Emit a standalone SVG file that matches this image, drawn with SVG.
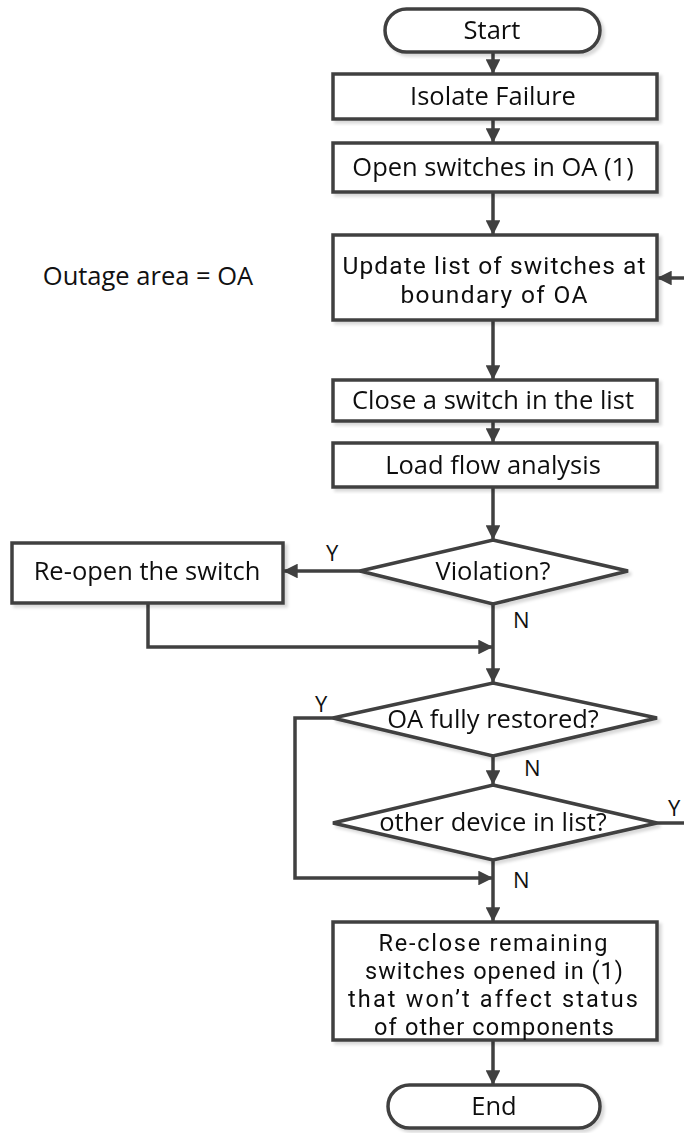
<svg xmlns="http://www.w3.org/2000/svg" width="684" height="1133" viewBox="0 0 684 1133">
<style>
.s{fill:#fff;stroke:#404040;stroke-width:3.5}
.t{font-family:"Open Sans","Liberation Sans",sans-serif;font-size:25.5px;fill:#111;text-anchor:middle}
.r{font-family:Roboto,"Liberation Sans",sans-serif;font-size:23.5px;fill:#111;text-anchor:middle}
.l{font-family:"Open Sans","Liberation Sans",sans-serif;font-size:22px;fill:#111}
.c{fill:none;stroke:#404040;stroke-width:3.5}
</style>
<defs>
<marker id="a" viewBox="0 0 10 10" refX="10" refY="5" markerWidth="4.2" markerHeight="4.2" orient="auto" markerUnits="strokeWidth">
<path d="M0,0L10,5L0,10z" fill="#404040"/>
</marker>
<filter id="sh" x="-5%" y="-5%" width="115%" height="120%">
<feDropShadow dx="3" dy="3" stdDeviation="1.5" flood-color="#000" flood-opacity="0.15"/>
</filter>
</defs>
<rect width="684" height="1133" fill="#fff"/>
<g id="connectors">
<path class="c" d="M493,52V74" marker-end="url(#a)"/>
<path class="c" d="M493,119V143" marker-end="url(#a)"/>
<path class="c" d="M493,192V235" marker-end="url(#a)"/>
<path class="c" d="M684,278H657" marker-end="url(#a)"/>
<path class="c" d="M493,320V380" marker-end="url(#a)"/>
<path class="c" d="M493,421V443" marker-end="url(#a)"/>
<path class="c" d="M493,487V540" marker-end="url(#a)"/>
<path class="c" d="M360,571H283" marker-end="url(#a)"/>
<path class="c" d="M493,604V683" marker-end="url(#a)"/>
<path class="c" d="M148,603V647H493" marker-end="url(#a)"/>
<path class="c" d="M333,718H295V878H493" marker-end="url(#a)"/>
<path class="c" d="M493,756V785" marker-end="url(#a)"/>
<path class="c" d="M657,823H684"/>
<path class="c" d="M493,860V922" marker-end="url(#a)"/>
<path class="c" d="M493,1040V1085" marker-end="url(#a)"/>
<text class="l" x="326" y="561">Y</text>
<text class="l" x="513" y="628">N</text>
<text class="l" x="315" y="712">Y</text>
<text class="l" x="524" y="776">N</text>
<text class="l" x="668" y="816">Y</text>
<text class="l" x="513" y="888">N</text>
</g>
<g id="note"><text class="t" x="148" y="285">Outage area = OA</text></g>
<g id="start" filter="url(#sh)"><rect class="s" x="385" y="9" width="215" height="43" rx="21.5"/><text class="t" x="492" y="39">Start</text></g>
<g id="isolate" filter="url(#sh)"><rect class="s" x="333" y="74" width="324" height="45"/><text class="t" x="493" y="105">Isolate Failure</text></g>
<g id="open" filter="url(#sh)"><rect class="s" x="333" y="143" width="324" height="49"/><text class="t" x="493" y="176">Open switches in OA (1)</text></g>
<g id="update" filter="url(#sh)"><rect class="s" x="333" y="235" width="324" height="85"/><text class="r" x="494" y="274" style="font-size:24.5px" textLength="303" lengthAdjust="spacing">Update list of switches at</text><text class="r" x="494" y="303" style="font-size:24.5px" textLength="187" lengthAdjust="spacing">boundary of OA</text></g>
<g id="close" filter="url(#sh)"><rect class="s" x="333" y="380" width="324" height="41"/><text class="t" x="493" y="409">Close a switch in the list</text></g>
<g id="loadflow" filter="url(#sh)"><rect class="s" x="333" y="443" width="324" height="44"/><text class="t" x="493" y="474">Load flow analysis</text></g>
<g id="violation" filter="url(#sh)"><path class="s" d="M493,540L628,571L493,604L360,571z"/><text class="t" x="493" y="580">Violation?</text></g>
<g id="reopen" filter="url(#sh)"><rect class="s" x="12" y="543" width="271" height="60"/><text class="t" x="147" y="580">Re-open the switch</text></g>
<g id="restored" filter="url(#sh)"><path class="s" d="M493,683L657,718L493,756L333,718z"/><text class="t" x="493" y="728">OA fully restored?</text></g>
<g id="other" filter="url(#sh)"><path class="s" d="M493,785L657,823L493,860L333,823z"/><text class="t" x="493" y="831">other device in list?</text></g>
<g id="reclose" filter="url(#sh)"><rect class="s" x="333" y="922" width="324" height="118"/><text class="r" x="493" y="951" textLength="229" lengthAdjust="spacing">Re-close remaining</text><text class="r" x="494" y="979" textLength="258" lengthAdjust="spacing">switches opened in (1)</text><text class="r" x="493" y="1007" textLength="290" lengthAdjust="spacing">that won’t affect status</text><text class="r" x="494" y="1035" textLength="240" lengthAdjust="spacing">of other components</text></g>
<g id="end" filter="url(#sh)"><rect class="s" x="388" y="1085" width="212" height="43" rx="21.5"/><text class="t" x="494" y="1115">End</text></g>
</svg>
